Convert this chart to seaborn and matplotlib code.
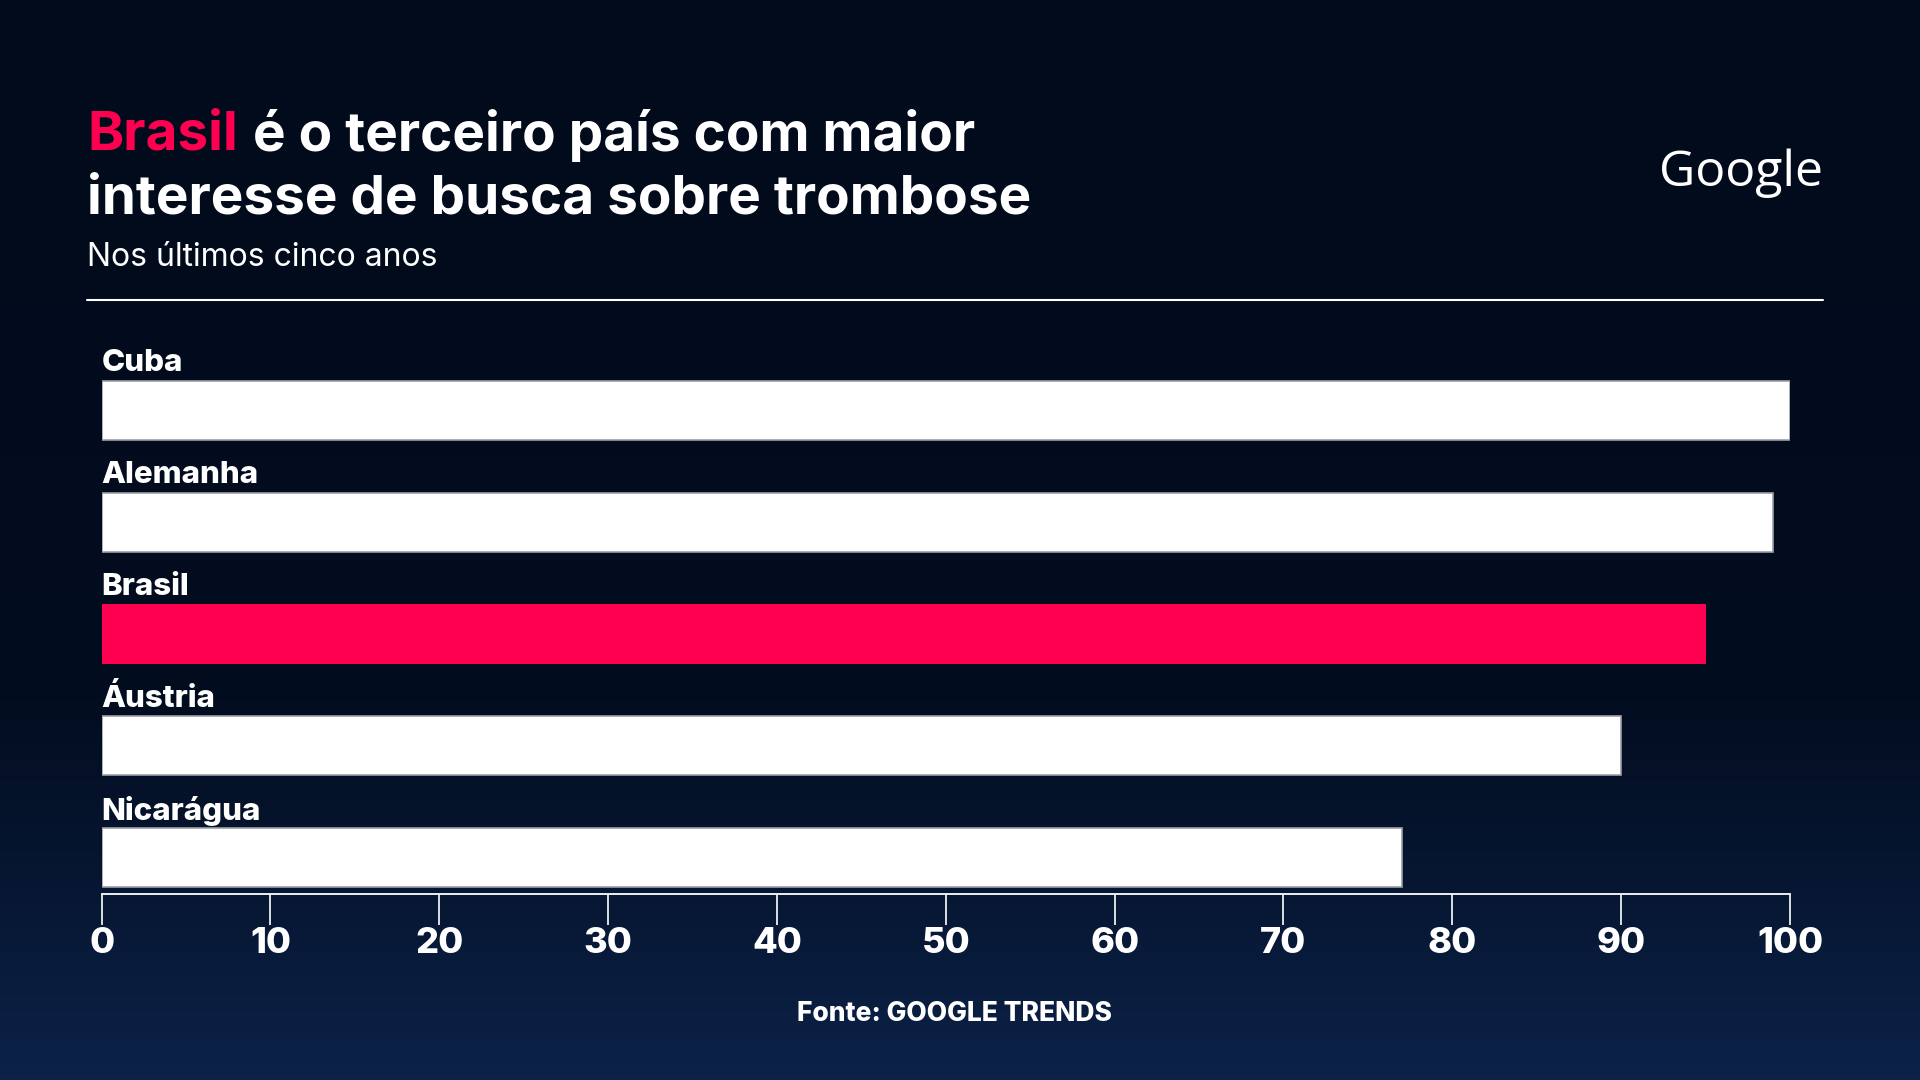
import numpy as np
import pandas as pd
import seaborn as sns
import matplotlib.pyplot as plt
from matplotlib.colors import LinearSegmentedColormap

sns.set_theme(style="white")
plt.rcParams["font.family"] = ["Inter", "DejaVu Sans"]

# data
paises = ["Cuba", "Alemanha", "Brasil", "Áustria", "Nicarágua"]
interesse = [100, 99, 95, 90, 77]
destaque = "Brasil"
ticks = [0, 10, 20, 30, 40, 50, 60, 70, 80, 90, 100]

PINK = "#ff0050"
WHITE = "#ffffff"

df = pd.DataFrame({"pais": paises, "valor": interesse})
df["grupo"] = np.where(df["pais"] == destaque, "destaque", "outros")

fig = plt.figure(figsize=(19.2, 10.8), dpi=100)

# gradient background
bg = fig.add_axes([0, 0, 1, 1], zorder=-10)
cmap = LinearSegmentedColormap.from_list("bg", ["#020b1c", "#020d20", "#0c2248"])
grad = np.linspace(0, 1, 256).reshape(-1, 1) ** 1.6
bg.imshow(grad, aspect="auto", cmap=cmap, extent=[0, 1, 0, 1], origin="upper")
bg.set_axis_off()

ax = fig.add_axes([0.0529, 0.1722, 0.8794, 0.5306])
ax.patch.set_alpha(0)
sns.barplot(data=df, x="valor", y="pais", hue="grupo", orient="h",
            palette={"destaque": PINK, "outros": WHITE}, width=0.53,
            dodge=False, legend=False, ax=ax, saturation=1)
for p in ax.patches:
    if p.get_facecolor()[:3] == (1.0, 1.0, 1.0):
        p.set_edgecolor("#9aa0a8")
        p.set_linewidth(1.2)
    else:
        p.set_linewidth(0)

ax.set_xlim(0, 100)
ax.set_ylim(4.327, -0.8)
ax.set_xticks(ticks)
ax.set_xticklabels([str(t) for t in ticks])
ax.set_yticks([])
ax.set_xlabel("")
ax.set_ylabel("")
for s in ["top", "right", "left"]:
    ax.spines[s].set_visible(False)
ax.spines["bottom"].set_color(WHITE)
ax.spines["bottom"].set_linewidth(1.3)
ax.tick_params(axis="x", colors=WHITE, direction="out", length=22, width=1.2,
               pad=2, labelsize=26, bottom=True)
for lab in ax.get_xticklabels():
    lab.set_fontweight("heavy")
    lab.set_color(WHITE)

for i, nome in enumerate(paises):
    ax.text(0, i - 0.42, nome, color=WHITE, fontsize=22.5, fontweight="heavy",
            ha="left", va="center")

# title
renderer = fig.canvas.get_renderer()
y1, y2 = 1 - 135 / 1080, 1 - 199 / 1080
t1 = fig.text(0.0453, y1, "Brasil", color=PINK, fontsize=39.5,
              fontweight="bold", ha="left", va="center")
bb = t1.get_window_extent(renderer)
fig.text(bb.x1 / 1920 + 0.0078, y1, "é o terceiro país com maior",
         color=WHITE, fontsize=39.5, fontweight="bold", ha="left", va="center")
fig.text(0.0453, y2, "interesse de busca sobre trombose",
         color=WHITE, fontsize=39.5, fontweight="bold", ha="left", va="center")
fig.text(0.0453, 1 - 258 / 1080, "Nos últimos cinco anos", color=WHITE,
         fontsize=23, ha="left", va="center")
fig.add_artist(plt.Line2D([0.0453, 0.9495], [1 - 300 / 1080] * 2,
                          color=WHITE, linewidth=1.5))

fig.text(0.9495, 1 - 173 / 1080, "Google", color=WHITE, fontsize=36,
         family=["Open Sans", "DejaVu Sans"], fontweight="medium",
         ha="right", va="center")

fig.text(0.497, 1 - 1014 / 1080, "Fonte: GOOGLE TRENDS", color=WHITE,
         fontsize=19, fontweight="heavy", ha="center", va="center")

fig.savefig("out.png", dpi=100)
